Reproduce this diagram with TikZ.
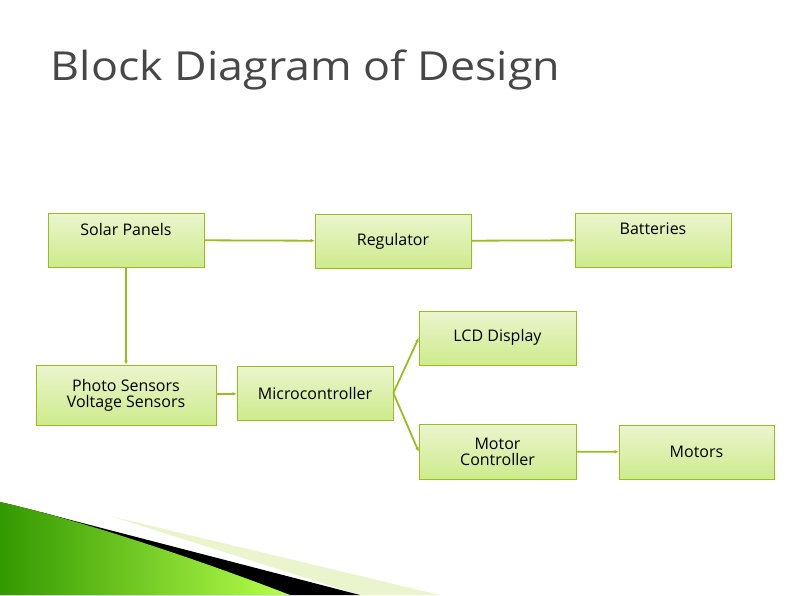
\documentclass[tikz,border=0pt]{standalone}
\usepackage{fontspec}
\setmainfont{Open Sans}
\usetikzlibrary{arrows.meta}
\definecolor{bx}{RGB}{150,190,30}
\definecolor{bxl}{RGB}{235,245,205}
\definecolor{bxd}{RGB}{205,235,140}
\begin{document}
\begin{tikzpicture}[x=1pt,y=-1pt,
 b/.style={draw=bx, line width=0.8pt, top color=bxl, bottom color=bxd, inner sep=0pt, font=\fontsize{16}{18}\selectfont, align=center},
 ar/.style={draw=bx, line width=1.8pt, -{Latex[length=4pt,width=4pt]}}]
\useasboundingbox (0,0) rectangle (794,595);
% decoration
\fill[bxl] (110,516) -- (440,595) -- (360,595) -- cycle;
\fill[black] (40,512) -- (360,595) -- (290,595) -- cycle;
\fill[left color=green!50!black!80!yellow, right color=green!40!yellow!70] (0,502) .. controls (80,520) and (200,560) .. (290,595) -- (0,595) -- cycle;
\node[anchor=west, font=\fontsize{40}{42}\selectfont, text=black!72, xscale=1.12] (t) at (47,70) {Block Diagram of Design};
\node[b, minimum width=156, minimum height=54, text depth=22pt] (sp) at (126,240) {Solar Panels};
\node[b, minimum width=156, minimum height=54] (rg) at (393,241) {Regulator};
\node[b, minimum width=156, minimum height=54, text depth=22pt] (bt) at (653,240) {Batteries};
\node[b, minimum width=157, minimum height=54, text depth=6pt] (lcd) at (497.5,338) {LCD Display};
\node[b, minimum width=180, minimum height=60] (ps) at (126,395) {Photo Sensors\\[-2pt]Voltage Sensors};
\node[b, minimum width=156, minimum height=54] (mc) at (315,393) {Microcontroller};
\node[b, minimum width=157, minimum height=55] (mot) at (497.5,451.5) {Motor\\[-2pt]Controller};
\node[b, minimum width=155, minimum height=54] (ms) at (696.5,452) {Motors};
\draw[ar] (sp) -- (rg);
\draw[ar] (rg) -- (bt);
\draw[ar] (sp) -- (ps);
\draw[ar] (ps) -- (mc);
\draw[ar] (mc.east) -- (lcd.west);
\draw[ar] (mc.east) -- (mot.west);
\draw[ar] (mot) -- (ms);
\end{tikzpicture}
\end{document}
